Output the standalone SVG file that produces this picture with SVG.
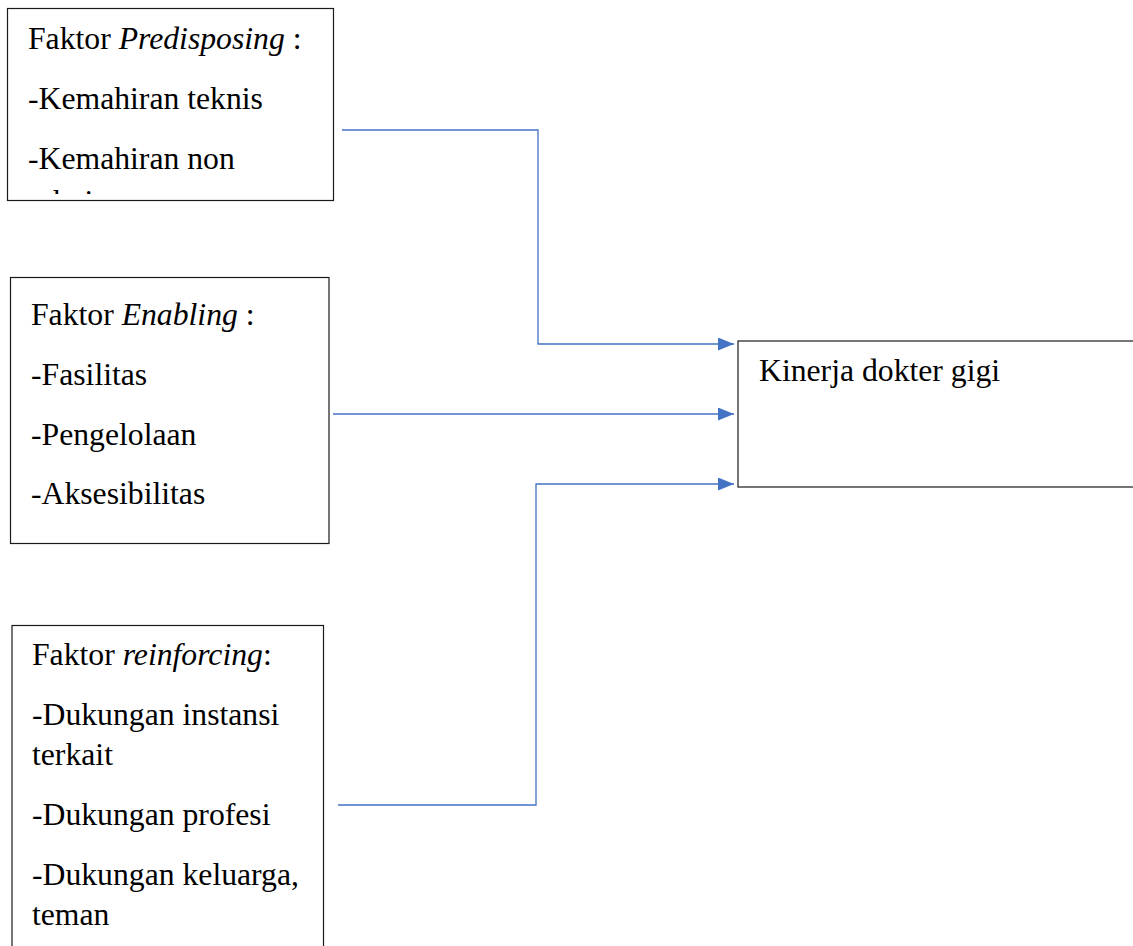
<svg xmlns="http://www.w3.org/2000/svg" width="1133" height="946" viewBox="0 0 1133 946">
<style>
.box{fill:#fff;stroke:#1a1a1a;stroke-width:1.2}
.t{font-family:"Liberation Serif","Times New Roman",serif;font-size:31.7px;fill:#000}
.i{font-style:italic}
.c{fill:none;stroke:#4472C4;stroke-width:1.3}
</style>
<defs>
<marker id="ah" markerWidth="16" markerHeight="13" refX="16" refY="6.5" orient="auto" markerUnits="userSpaceOnUse">
<path d="M0,0 L16,6.5 L0,13 Z" fill="#4472C4"/>
</marker>
<clipPath id="clip1"><rect x="8" y="9" width="325" height="185"/></clipPath>
</defs>
<rect width="1133" height="946" fill="#fff"/>
<g id="predisposing">
<rect class="box" x="7.5" y="8.5" width="326" height="192"/>
<g clip-path="url(#clip1)">
<text class="t" x="28" y="49">Faktor <tspan class="i">Predisposing</tspan> :</text>
<text class="t" x="28" y="109">-Kemahiran teknis</text>
<text class="t" x="28" y="169">-Kemahiran non</text>
<text class="t" x="30" y="212">teknis</text>
</g>
</g>
<g id="enabling">
<rect class="box" x="10.5" y="277.5" width="318.5" height="266"/>
<text class="t" x="31" y="325">Faktor <tspan class="i">Enabling</tspan> :</text>
<text class="t" x="31" y="385">-Fasilitas</text>
<text class="t" x="31" y="445">-Pengelolaan</text>
<text class="t" x="31" y="504">-Aksesibilitas</text>
</g>
<g id="reinforcing">
<rect class="box" x="12" y="625.5" width="311.5" height="340"/>
<text class="t" x="32" y="665">Faktor <tspan class="i">reinforcing</tspan>:</text>
<text class="t" x="32" y="725">-Dukungan instansi</text>
<text class="t" x="32" y="765">terkait</text>
<text class="t" x="32" y="825">-Dukungan profesi</text>
<text class="t" x="32" y="885">-Dukungan keluarga,</text>
<text class="t" x="32" y="925">teman</text>
</g>
<g id="kinerja">
<rect class="box" x="738" y="341" width="420" height="146"/>
<text class="t" x="759" y="381">Kinerja dokter gigi</text>
</g>
<g id="connectors">
<path class="c" d="M342,130 H538 V344 H734" marker-end="url(#ah)"/>
<path class="c" d="M333,414 H734" marker-end="url(#ah)"/>
<path class="c" d="M338,805 H536 V484 H734" marker-end="url(#ah)"/>
</g>
</svg>
